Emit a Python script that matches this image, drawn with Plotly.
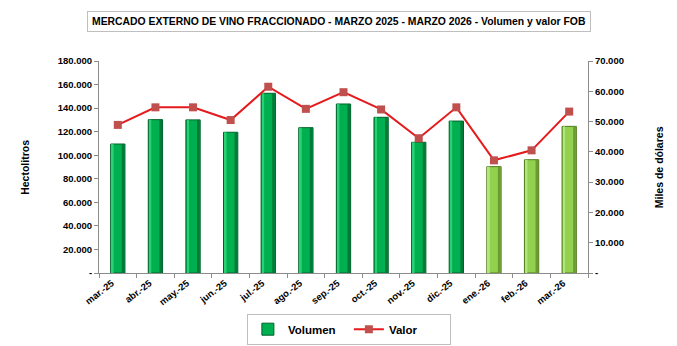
import plotly.graph_objects as go

meses = ["mar.-25", "abr.-25", "may.-25", "jun.-25", "jul.-25", "ago.-25", "sep.-25",
         "oct.-25", "nov.-25", "dic.-25", "ene.-26", "feb.-26", "mar.-26"]
volumen = [109500, 130200, 130000, 119500, 152600, 123400, 143500,
           132200, 111000, 129000, 90300, 96200, 124500]
valor = [48900, 54700, 54700, 50500, 61500, 54200, 59700,
         54000, 44500, 54700, 37200, 40500, 53300]
bar_colors = ["#00B050"] * 10 + ["#92D050"] * 3
edge_colors = ["#00602B"] * 10 + ["#4F7A1E"] * 3
shade_colors = ["#007A38"] * 10 + ["#6A9A30"] * 3
light_colors = ["#2BD072"] * 10 + ["#B2E57A"] * 3

left_vals = [0, 20000, 40000, 60000, 80000, 100000, 120000, 140000, 160000, 180000]
left_text = ["-", "20.000", "40.000", "60.000", "80.000", "100.000", "120.000", "140.000", "160.000", "180.000"]
right_vals = [0, 10000, 20000, 30000, 40000, 50000, 60000, 70000]
right_text = ["-", "10.000", "20.000", "30.000", "40.000", "50.000", "60.000", "70.000"]

FONT = "Liberation Sans, Arial"

fig = go.Figure()
fig.add_trace(go.Bar(
    x=meses, y=volumen, name="<b>Volumen</b>", width=0.38, offset=-0.19,
    marker=dict(color=bar_colors, line=dict(color=edge_colors, width=1)),
    yaxis="y",
))
# cylinder shading (same data, decorative)
fig.add_trace(go.Bar(
    x=meses, y=volumen, width=0.07, offset=0.105, showlegend=False, hoverinfo="skip",
    marker=dict(color=shade_colors, line=dict(width=0)), yaxis="y",
))
fig.add_trace(go.Bar(
    x=meses, y=volumen, width=0.05, offset=-0.16, showlegend=False, hoverinfo="skip",
    marker=dict(color=light_colors, line=dict(width=0)), yaxis="y",
))
fig.add_trace(go.Scatter(
    x=meses, y=valor, name="<b>Valor</b>", mode="lines+markers",
    line=dict(color="#E41A1C", width=2),
    marker=dict(symbol="square", size=8, color="#C0504D"),
    yaxis="y2",
))

axis_common = dict(showgrid=False, zeroline=False, showline=True, linecolor="#8C8C8C",
                   linewidth=1, ticks="outside", ticklen=4, tickcolor="#8C8C8C",
                   automargin=False,
                   tickfont=dict(family=FONT, size=9.5, color="black", weight="bold"))

fig.update_layout(
    width=677, height=346,
    margin=dict(l=99, r=89, t=61, b=73, autoexpand=False),
    paper_bgcolor="white", plot_bgcolor="white",
    font=dict(family=FONT, color="black"),
    barmode="overlay",
    xaxis=dict(type="category", range=[-0.5, 12.5], tickangle=-38, tickson="boundaries",
               ticklabelshift=-6, **axis_common),
    yaxis=dict(range=[0, 180000], tickvals=left_vals, ticktext=left_text, **axis_common),
    yaxis2=dict(range=[0, 70000], tickvals=right_vals, ticktext=right_text,
                overlaying="y", side="right", **axis_common),
    legend=dict(orientation="h", x=0.511, y=-0.265, xanchor="center", yanchor="middle",
                bordercolor="#BFBFBF", borderwidth=1, bgcolor="white",
                font=dict(family=FONT, size=11.5, color="black"), entrywidth=56,
                itemwidth=30, tracegroupgap=0),
    showlegend=True,
    annotations=[
        dict(text="<b>MERCADO EXTERNO DE VINO FRACCIONADO - MARZO 2025 - MARZO 2026 - Volumen y valor FOB</b>",
             xref="paper", yref="paper", x=0.491, y=1.184, xanchor="center", yanchor="middle",
             showarrow=False, font=dict(family=FONT, size=10.4, color="black"),
             bordercolor="#BFBFBF", borderwidth=1, borderpad=4, bgcolor="white"),
        dict(text="<b>Hectolitros</b>", xref="paper", yref="paper", x=-0.168, y=0.5,
             textangle=-90, showarrow=False, font=dict(family=FONT, size=10.5, color="black")),
        dict(text="<b>Miles de dólares</b>", xref="paper", yref="paper", x=1.162, y=0.5,
             textangle=-90, showarrow=False, font=dict(family=FONT, size=10.5, color="black")),
    ],
)

fig.write_html("out.html")
